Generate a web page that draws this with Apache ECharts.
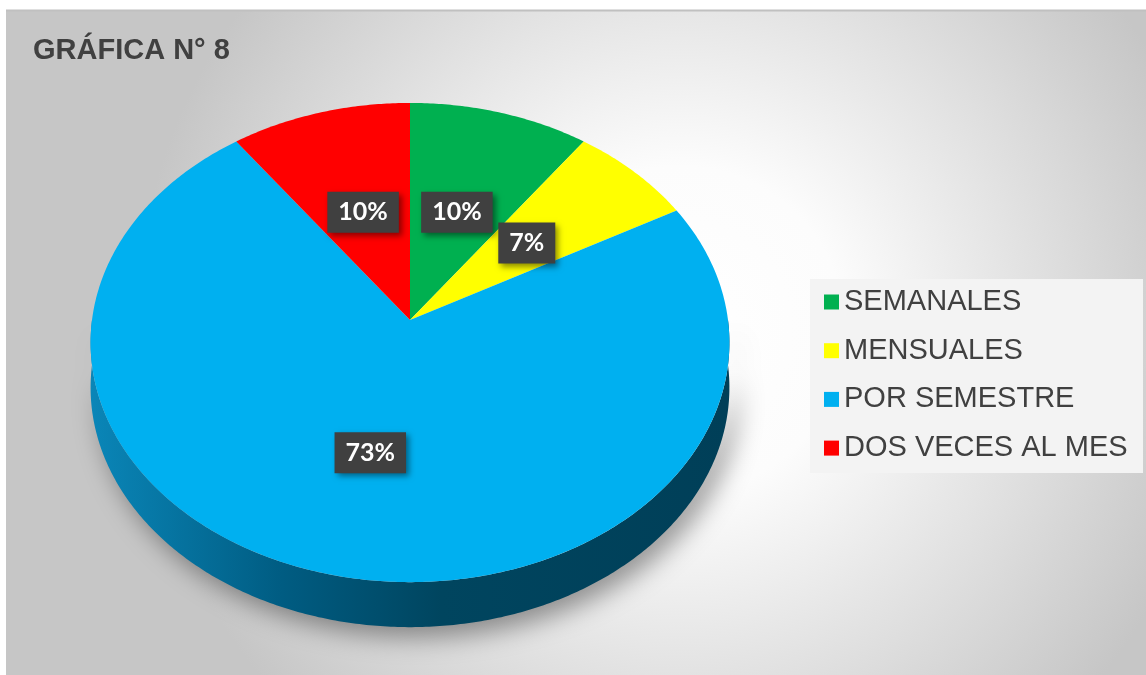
<!DOCTYPE html>
<html>
<head>
<meta charset="utf-8">
<title>GRÁFICA N° 8</title>
<script src="https://cdn.jsdelivr.net/npm/echarts@6/dist/echarts.min.js"></script>
<style>
    html, body {margin: 0; padding: 0; background: #fff;}
    #main {width: 1146px; height: 675px;}
</style>
</head>
<body>
<div id="main"></div>
<script>
// datos
let titleText = 'GRÁFICA N° 8';
let categories = ['SEMANALES', 'MENSUALES', 'POR SEMESTRE', 'DOS VECES AL MES'];
let values = [10, 7, 73, 10];
let colors = ['#00b050', '#ffff00', '#00b0f0', '#ff0000'];

// geometría del pastel 3D
let pie = {cx: 410, cy: 320, rx: 318, ry: 237.5, persp: 0.094, depth: 45, labelR: 0.52};

let total = values.reduce((a, b) => a + b, 0);
let starts = [], acc = 0;
for (let i = 0; i < values.length; i++) {
    starts.push(acc / total * Math.PI * 2);
    acc += values[i];
}

function point(angle, f, dy) {
    let s = Math.sin(angle), c = Math.cos(angle);
    let k = 1 + pie.persp * c;
    return [pie.cx + f * pie.rx * s / k, pie.cy - f * pie.ry * c / k + (dy || 0)];
}

function arcPoints(a0, a1, dy) {
    let pts = [];
    let n = Math.max(2, Math.ceil((a1 - a0) / 0.01));
    for (let i = 0; i <= n; i++) {
        pts.push(point(a0 + (a1 - a0) * i / n, 1, dy));
    }
    return pts;
}

function renderSlice(params, api) {
    let i = params.seriesIndex;
    let a0 = starts[i];
    let a1 = a0 + api.value(0) / total * Math.PI * 2;
    let children = [];

    // pared lateral (solo mitad frontal)
    let s0 = Math.max(a0, Math.PI / 2), s1 = Math.min(a1, Math.PI * 1.5);
    if (s1 > s0) {
        let top = arcPoints(s0, s1, 0);
        let bottom = arcPoints(s0, s1, pie.depth).reverse();
        children.push({
            type: 'polygon', z2: 1,
            shape: {points: top.concat(bottom)},
            style: {
                fill: new echarts.graphic.LinearGradient(0, 0, 1, 0, [
                    {offset: 0, color: '#0a86b8'},
                    {offset: 0.3, color: '#005c82'},
                    {offset: 0.55, color: '#00455f'},
                    {offset: 1, color: '#003f58'}
                ]),
                shadowBlur: 26,
                shadowColor: 'rgba(0,0,0,0.4)',
                shadowOffsetX: 8,
                shadowOffsetY: 10
            }
        });
    }

    // cara superior
    children.push({
        type: 'polygon', z2: 5,
        shape: {points: [[pie.cx, pie.cy]].concat(arcPoints(a0, a1, 0))},
        style: {fill: colors[i]}
    });

    // etiqueta
    let lp = point((a0 + a1) / 2, pie.labelR, 0);
    children.push({
        type: 'text', z2: 10,
        x: lp[0], y: lp[1],
        style: {
            text: Math.round(api.value(0) / total * 100) + '%',
            align: 'center',
            verticalAlign: 'middle',
            fill: '#ffffff',
            font: 'bold 25px Lato',
            backgroundColor: '#404040',
            padding: [8, 11, 8, 11],
            shadowBlur: 6,
            shadowColor: 'rgba(0,0,0,0.45)',
            shadowOffsetX: 3,
            shadowOffsetY: 3
        }
    });

    return {type: 'group', children: children};
}

let myChart = echarts.init(document.getElementById('main'));
let option = {
    animation: false,
    title: {
        text: titleText,
        left: 33,
        top: 36,
        padding: 0,
        textStyle: {fontFamily: 'Liberation Sans', fontSize: 29, fontWeight: 'bold', color: '#404040'}
    },
    legend: {
        orient: 'vertical',
        left: 824,
        top: 286,
        padding: 0,
        icon: 'rect',
        itemWidth: 15,
        itemHeight: 15,
        itemGap: 16.7,
        selectedMode: false,
        data: categories,
        textStyle: {fontFamily: 'Liberation Sans', fontSize: 29, color: '#404040', lineHeight: 32}
    },
    graphic: [
        {
            type: 'rect', z: 0,
            shape: {x: 6, y: 10, width: 1140, height: 665},
            style: {
                fill: new echarts.graphic.RadialGradient(0.592, 0.481, 0.82, [
                    {offset: 0, color: '#ffffff'},
                    {offset: 0.3, color: '#fcfcfc'},
                    {offset: 1, color: '#c6c6c6'}
                ])
            }
        },
        {
            type: 'line', z: 0,
            shape: {x1: 6, y1: 10.5, x2: 1146, y2: 10.5},
            style: {stroke: '#c0c0c0', lineWidth: 2}
        },
        {
            type: 'rect', z: 1,
            shape: {x: 810, y: 279, width: 333, height: 194},
            style: {fill: '#f3f3f3'}
        }
    ],
    series: categories.map(function (name, i) {
        return {
            type: 'custom',
            name: name,
            coordinateSystem: 'none',
            silent: true,
            itemStyle: {color: colors[i]},
            renderItem: renderSlice,
            data: [values[i]]
        };
    })
};
myChart.setOption(option);
</script>
</body>
</html>
